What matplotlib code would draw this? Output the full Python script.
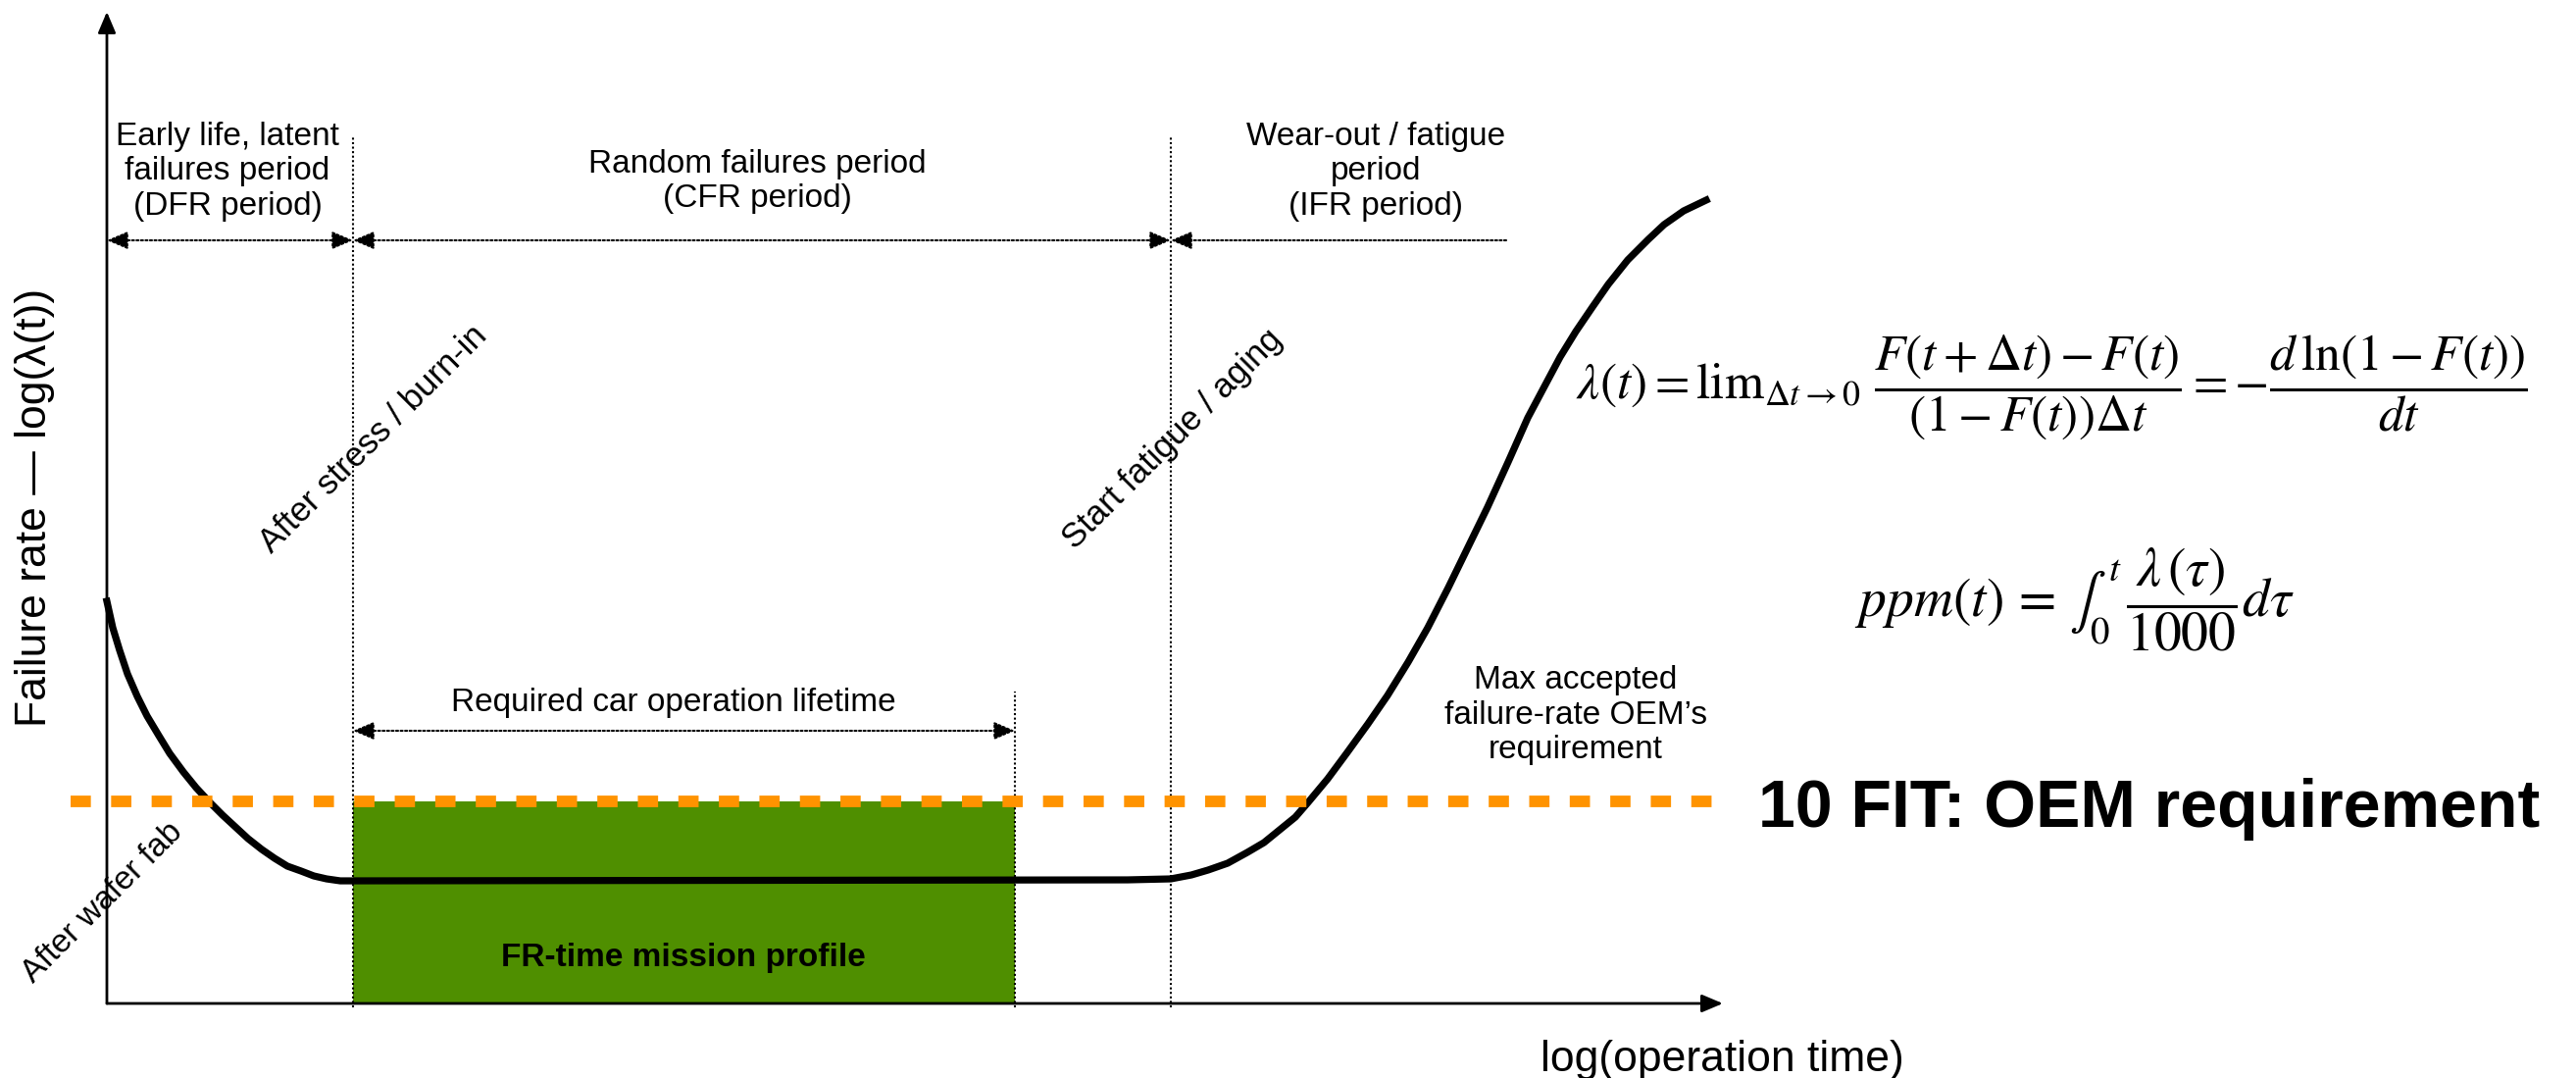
import matplotlib.pyplot as plt

plt.rcParams['font.family'] = ['Liberation Sans', 'DejaVu Sans']
plt.rcParams['mathtext.fontset'] = 'stix'

# bathtub curve (x = log operation time, y = log failure rate, arbitrary units)
t_curve = [0.0, 0.6, 1.3, 2.1, 3.1, 4.1, 5.3, 6.4, 7.8, 9.1, 10.4, 11.8, 13.1,
           14.4, 15.8, 17.1, 18.4, 19.8, 21.1, 22.4, 23.8, 25.1,
           104.1, 108.5, 110.6, 112.3, 114.3, 116.3, 118.0, 119.6, 121.2, 122.5,
           124.5, 126.5, 128.6, 130.6, 132.7, 134.7, 136.8, 138.8, 140.8, 142.9,
           144.9, 146.6, 148.2, 149.8, 151.5, 153.1, 155.1, 157.2, 158.8, 160.8, 163.1]
fr_curve = [41.0, 38.3, 36.0, 33.6, 31.3, 29.3, 27.3, 25.5, 23.6, 22.0, 20.6, 19.2, 18.0,
            16.8, 15.7, 14.8, 14.0, 13.5, 13.0, 12.7, 12.5, 12.5,
            12.6, 12.7, 13.1, 13.6, 14.3, 15.4, 16.4, 17.7, 19.0, 20.5,
            22.9, 25.6, 28.5, 31.4, 34.8, 38.3, 42.4, 46.5, 50.6, 55.2,
            59.7, 62.9, 65.9, 68.5, 71.0, 73.3, 75.8, 77.9, 79.4, 80.8, 81.9]

# period boundaries on the time axis
t_burn_in = 25.1
t_lifetime_end = 92.6
t_fatigue = 108.5
t_ifr_end = 142.7
t_axis_end = 164.8
fr_axis_end = 101.1

# 10 FIT requirement level
fit_limit = 20.6

period_labels = ['Early life, latent\nfailures period\n(DFR period)',
                 'Random failures period\n(CFR period)',
                 'Wear-out / fatigue\nperiod\n(IFR period)']

fig = plt.figure(figsize=(26.27, 10.99), dpi=100)
ax = fig.add_axes([0, 0, 1, 1])
ax.set_xlim(-10.9, 251.8)
ax.set_ylim(-7.6, 102.3)
ax.axis('off')

dots = (0, (1, 1.2))
head = '-|>,head_length=1.3,head_width=0.55'
both = '<|-|>,head_length=1.3,head_width=0.55'


def darrow(x0, x1, y, style):
    ax.annotate('', xy=(x1, y), xytext=(x0, y),
                arrowprops=dict(arrowstyle=style, mutation_scale=10, lw=1.5,
                                linestyle=dots, color='black', shrinkA=0, shrinkB=0))


# mission profile box
ax.bar(t_burn_in, fit_limit, width=t_lifetime_end - t_burn_in, align='edge',
       color='#4f8f00', zorder=1)

# vertical period separators
for xv, top in [(t_burn_in, 88.3), (t_fatigue, 88.3), (t_lifetime_end, 31.8)]:
    ax.plot([xv, xv], [-0.4, top], color='black', lw=1.5, ls=dots, zorder=2)

# bathtub curve
ax.plot(t_curve, fr_curve, color='black', lw=5.2, solid_joinstyle='round', zorder=3)

# OEM requirement line
ax.plot([-3.7, t_axis_end], [fit_limit, fit_limit], color='#ff9300', lw=8.5,
        ls=(0, (1.75, 1.75)), dash_capstyle='butt', zorder=4)

# axes arrows
for xy in [(0, fr_axis_end), (t_axis_end, 0)]:
    ax.annotate('', xy=xy, xytext=(0, 0),
                arrowprops=dict(arrowstyle=head, mutation_scale=10, lw=2,
                                color='black', shrinkA=0, shrinkB=0), zorder=5)

# period arrows
darrow(0, t_burn_in, 77.8, both)
darrow(t_burn_in, t_fatigue, 77.8, both)
darrow(t_ifr_end, t_fatigue, 77.8, head)
darrow(t_burn_in, t_lifetime_end, 27.8, both)

fs = 24
ax.text(12.3, 84.8, period_labels[0], ha='center', va='center', fontsize=fs)
ax.text(66.3, 83.8, period_labels[1], ha='center', va='center', fontsize=fs)
ax.text(129.4, 84.8, period_labels[2], ha='center', va='center', fontsize=fs)
ax.text(57.8, 30.6, 'Required car operation lifetime', ha='center', va='center', fontsize=fs)
ax.text(58.8, 4.6, 'FR-time mission profile', ha='center', va='center',
        fontsize=fs, fontweight='bold')
ax.text(149.8, 29.4, 'Max accepted\nfailure-rate OEM\u2019s\nrequirement',
        ha='center', va='center', fontsize=fs)
ax.text(168.4, 18.0, '10 FIT: OEM requirement', ha='left', va='baseline',
        fontsize=49, fontweight='bold')

# rotated event labels
ax.text(-0.4, 10.3, 'After wafer fab', rotation=45, rotation_mode='anchor',
        ha='center', va='center', fontsize=24)
ax.text(27.2, 57.5, 'After stress / burn-in', rotation=45, rotation_mode='anchor',
        ha='center', va='center', fontsize=25)
ax.text(108.7, 57.5, 'Start fatigue / aging', rotation=45, rotation_mode='anchor',
        ha='center', va='center', fontsize=25)

# axis titles
ax.text(164.7, -6.9, 'log(operation time)', ha='center', va='baseline', fontsize=32)
ax.text(-7.3, 50.6, 'Failure rate \u2014 log(\u03bb(t))', rotation=90,
        ha='center', va='center', fontsize=32)

# formulas
ax.text(198.3, 62.8,
        r'$\lambda\left(t\right)=\mathrm{lim}_{\Delta t\rightarrow 0}\ '
        r'\dfrac{F\left(t+\Delta t\right)-F\left(t\right)}{\left(1-F\left(t\right)\right)\Delta t}'
        r'=-\dfrac{d\,\mathrm{ln}\left(1-F\left(t\right)\right)}{dt}$',
        ha='center', va='center', fontsize=37)
ax.text(200.6, 41.2, r'$ppm(t)\,=\,\int_0^t\,\dfrac{\lambda\,(\tau)}{1000}d\tau$',
        ha='center', va='center', fontsize=40)

fig.savefig('out.png', dpi=100)
